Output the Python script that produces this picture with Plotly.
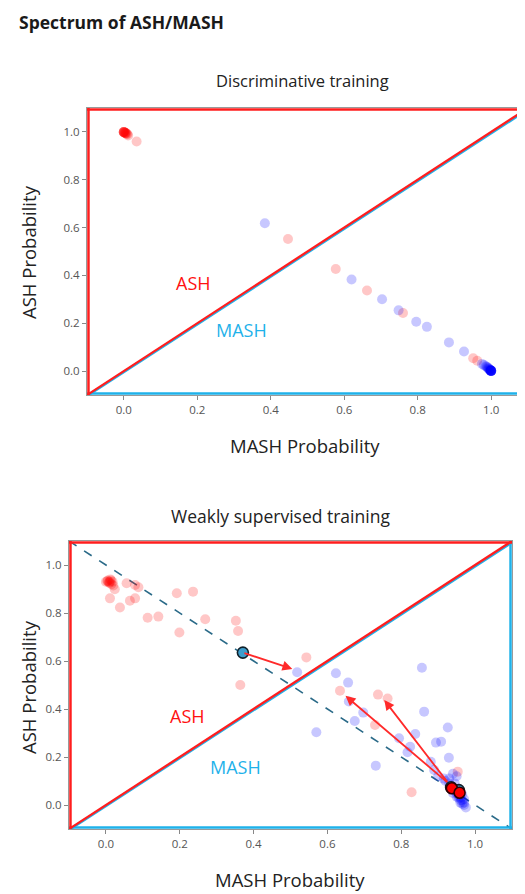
import plotly.graph_objects as go

# ---------------- data: discriminative training ----------------
d_ash_x = [0.0, 0.0, 0.0, 0.0, 0.0, 0.002, 0.003, 0.004, 0.005, 0.006, 0.008, 0.01, 0.012, 0.035,
           0.447, 0.577, 0.662, 0.760, 0.951, 0.962]
d_ash_y = [1.0, 1.0, 1.0, 1.0, 0.998, 0.998, 0.997, 0.996, 0.995, 0.994, 0.992, 0.99, 0.985, 0.96,
           0.552, 0.427, 0.337, 0.243, 0.054, 0.043]
d_mash_x = [0.384, 0.620, 0.703, 0.748, 0.796, 0.825, 0.885, 0.926,
            0.975, 0.98, 0.985, 0.988, 0.99, 0.992, 0.993, 0.995, 0.996, 0.997,
            0.998, 0.998, 0.999, 0.999, 1.0, 1.0, 1.0, 1.0, 1.0, 1.0, 1.0, 0.999]
d_mash_y = [0.618, 0.383, 0.300, 0.254, 0.206, 0.185, 0.120, 0.082,
            0.03, 0.025, 0.02, 0.018, 0.015, 0.012, 0.01, 0.008, 0.006, 0.005,
            0.004, 0.003, 0.002, 0.001, 0.001, 0.0, 0.0, 0.0, 0.001, 0.0, 0.002, 0.0]

# ---------------- data: weakly supervised training ----------------
w_ash_x = [0.0, 0.005, 0.01, 0.012, 0.015, 0.018, 0.02, 0.008, 0.004, 0.01, 0.014, 0.024, 0.056, 0.079, 0.088,
           0.011, 0.038, 0.065, 0.079, 0.113, 0.142, 0.192, 0.236, 0.199, 0.269, 0.352,
           0.358, 0.364, 0.543, 0.634, 0.737, 0.763, 0.729, 0.828, 0.953]
w_ash_y = [0.93, 0.935, 0.925, 0.94, 0.92, 0.93, 0.915, 0.928, 0.932, 0.93, 0.935, 0.899, 0.924, 0.917, 0.907,
           0.861, 0.823, 0.851, 0.861, 0.780, 0.785, 0.882, 0.889, 0.719, 0.774, 0.768,
           0.725, 0.50, 0.615, 0.476, 0.46, 0.444, 0.333, 0.053, 0.139]
w_mash_x = [0.518, 0.623, 0.656, 0.856, 0.862, 0.658, 0.697, 0.674, 0.570, 0.926, 0.838,
            0.794, 0.894, 0.908, 0.824, 0.929, 0.731, 0.88, 0.889, 0.817, 0.90, 0.915,
            0.92, 0.93, 0.935, 0.94, 0.945, 0.95, 0.955, 0.96, 0.965, 0.97, 0.94, 0.95,
            0.96, 0.97, 0.975, 0.93, 0.945, 0.955, 0.965, 0.97, 0.96, 0.95, 0.94, 0.955, 0.965]
w_mash_y = [0.553, 0.549, 0.51, 0.572, 0.389, 0.431, 0.385, 0.35, 0.303, 0.323, 0.296,
            0.278, 0.26, 0.264, 0.243, 0.197, 0.164, 0.18, 0.146, 0.22, 0.12, 0.11,
            0.1, 0.09, 0.08, 0.07, 0.06, 0.05, 0.04, 0.03, 0.02, 0.01, 0.05, 0.035,
            0.02, 0.0, -0.01, 0.11, 0.09, 0.06, 0.045, 0.025, 0.01, 0.12, 0.13, 0.03, 0.005]
w_start_x = [0.371, 0.935, 0.956]
w_start_y = [0.635, 0.074, 0.062]
w_end_x = [0.937, 0.958]
w_end_y = [0.07, 0.051]
arrow_from = [(0.371, 0.635), (0.928, 0.09), (0.928, 0.09)]
arrow_to = [(0.505, 0.567), (0.649, 0.455), (0.754, 0.437)]

x_ticks = [0.0, 0.2, 0.4, 0.6, 0.8, 1.0]
y_ticks = [0.0, 0.2, 0.4, 0.6, 0.8, 1.0]

RED = "#ff1e1e"
CYAN = "#1fb2ea"
RED_A = "rgba(255,0,0,0.22)"
BLUE_A = "rgba(0,0,255,0.22)"
FONT = "Open Sans"

# page has an 8px body margin: figure occupies window pixels 8..525 x 8..894
OFF = 8
W, H = 525 - OFF, 894 - OFF

def PX(px):
    return (px - OFF) / W

def PY(py):
    return 1 - (py - OFF) / H

fig = go.Figure()

def pts(x, y, color, xa, ya, size=10):
    fig.add_trace(go.Scatter(x=x, y=y, mode="markers", xaxis=xa, yaxis=ya,
                             marker=dict(size=size, color=color, line=dict(width=0)),
                             showlegend=False, hoverinfo="skip"))

pts(d_ash_x, d_ash_y, RED_A, "x", "y")
pts(d_mash_x, d_mash_y, BLUE_A, "x", "y")

# dashed line x + y = 1
fig.add_trace(go.Scatter(x=[-0.1, 1.1], y=[1.1, -0.1], mode="lines", xaxis="x2", yaxis="y2",
                         line=dict(color="#2a6a88", width=1.6, dash="dash"),
                         showlegend=False, hoverinfo="skip"))
pts(w_ash_x, w_ash_y, RED_A, "x2", "y2")
pts(w_mash_x, w_mash_y, BLUE_A, "x2", "y2")
fig.add_trace(go.Scatter(x=w_start_x, y=w_start_y, mode="markers", xaxis="x2", yaxis="y2",
                         marker=dict(size=11, color="#3d9dcc", line=dict(width=1.6, color="#10202a")),
                         showlegend=False, hoverinfo="skip"))
fig.add_trace(go.Scatter(x=w_end_x, y=w_end_y, mode="markers", xaxis="x2", yaxis="y2",
                         marker=dict(size=11, color="#ff0000", line=dict(width=1.6, color="#300000")),
                         showlegend=False, hoverinfo="skip"))

shapes = []
annotations = []

def frame(xr, yr, ex, ey):
    # cyan triangle (lower right)
    shapes.append(dict(type="line", xref=xr, yref=yr, x0=-0.1, y0=-0.1 + ey, x1=1.1, y1=-0.1 + ey,
                       line=dict(color=CYAN, width=2.5), layer="above"))
    shapes.append(dict(type="line", xref=xr, yref=yr, x0=1.1 - ex, y0=-0.1, x1=1.1 - ex, y1=1.1,
                       line=dict(color=CYAN, width=2.5), layer="above"))
    shapes.append(dict(type="line", xref=xr, yref=yr, x0=-0.1 + ex, y0=-0.1, x1=1.1, y1=1.1 - ey,
                       line=dict(color=CYAN, width=2.5), layer="above"))
    # red triangle (upper left)
    shapes.append(dict(type="line", xref=xr, yref=yr, x0=-0.1 + ex, y0=-0.1, x1=-0.1 + ex, y1=1.1,
                       line=dict(color=RED, width=2.5), layer="above"))
    shapes.append(dict(type="line", xref=xr, yref=yr, x0=-0.1, y0=1.1 - ey, x1=1.1, y1=1.1 - ey,
                       line=dict(color=RED, width=2.5), layer="above"))
    shapes.append(dict(type="line", xref=xr, yref=yr, x0=-0.1, y0=-0.1, x1=1.1, y1=1.1,
                       line=dict(color=RED, width=2.3), layer="above"))

frame("x", "y", 0.004, 0.006)
frame("x2", "y2", 0.004, 0.006)

for (x0, y0), (x1, y1) in zip(arrow_from, arrow_to):
    annotations.append(dict(x=x1, y=y1, ax=x0, ay=y0, xref="x2", yref="y2", axref="x2", ayref="y2",
                            showarrow=True, arrowhead=2, arrowsize=1.1, arrowwidth=1.8,
                            arrowcolor="#ff2a2a", text=""))

def txt(x, y, s, size, color, xref="paper", yref="paper", **kw):
    annotations.append(dict(x=x, y=y, xref=xref, yref=yref, text=s, showarrow=False,
                            font=dict(family=FONT, size=size, color=color), **kw))

txt(PX(17), PY(22), "<b>Spectrum of ASH/MASH</b>", 17.5, "#1a1a1a", xanchor="left", yanchor="middle")
txt(PX(302), PY(80), "Discriminative training", 16.5, "#222", xanchor="center", yanchor="middle")
txt(PX(280), PY(516), "Weakly supervised training", 17.5, "#222", xanchor="center", yanchor="middle")
txt(PX(305), PY(445), "MASH Probability", 18.5, "#222", xanchor="center", yanchor="middle")
txt(PX(290), PY(879), "MASH Probability", 18.5, "#222", xanchor="center", yanchor="middle")
txt(PX(28), PY(252), "ASH Probability", 18.5, "#222", xanchor="center", yanchor="middle", textangle=-90)
txt(PX(28), PY(687), "ASH Probability", 18.5, "#222", xanchor="center", yanchor="middle", textangle=-90)

txt(0.19, 0.37, "ASH", 18, "#ff1010", xref="x", yref="y")
txt(0.32, 0.17, "MASH", 18, "#1fb2ea", xref="x", yref="y")
txt(0.22, 0.37, "ASH", 18, "#ff1010", xref="x2", yref="y2")
txt(0.35, 0.16, "MASH", 18, "#1fb2ea", xref="x2", yref="y2")

axis_common = dict(tickvals=x_ticks, tickformat=".1f", ticks="outside", ticklen=4, tickcolor="#888",
                   tickfont=dict(family=FONT, size=11.5, color="#555"), showgrid=False, zeroline=False,
                   showline=True, linecolor="#9a9a9a", linewidth=1, mirror=True)

fig.update_layout(
    width=W, height=H, margin=dict(l=0, r=0, t=0, b=0),
    plot_bgcolor="white", paper_bgcolor="white",
    xaxis=dict(domain=[PX(87), 1.0], range=[-0.1, 1.092], anchor="y", **axis_common),
    yaxis=dict(domain=[PY(395), PY(108)], range=[-0.1, 1.1], anchor="x",
               **{**axis_common, "tickvals": y_ticks}),
    xaxis2=dict(domain=[PX(69), PX(512)], range=[-0.1, 1.1], anchor="y2", **axis_common),
    yaxis2=dict(domain=[PY(829), PY(541)], range=[-0.1, 1.1], anchor="x2",
                **{**axis_common, "tickvals": y_ticks}),
    shapes=shapes, annotations=annotations,
)

fig.write_html("out.html")
